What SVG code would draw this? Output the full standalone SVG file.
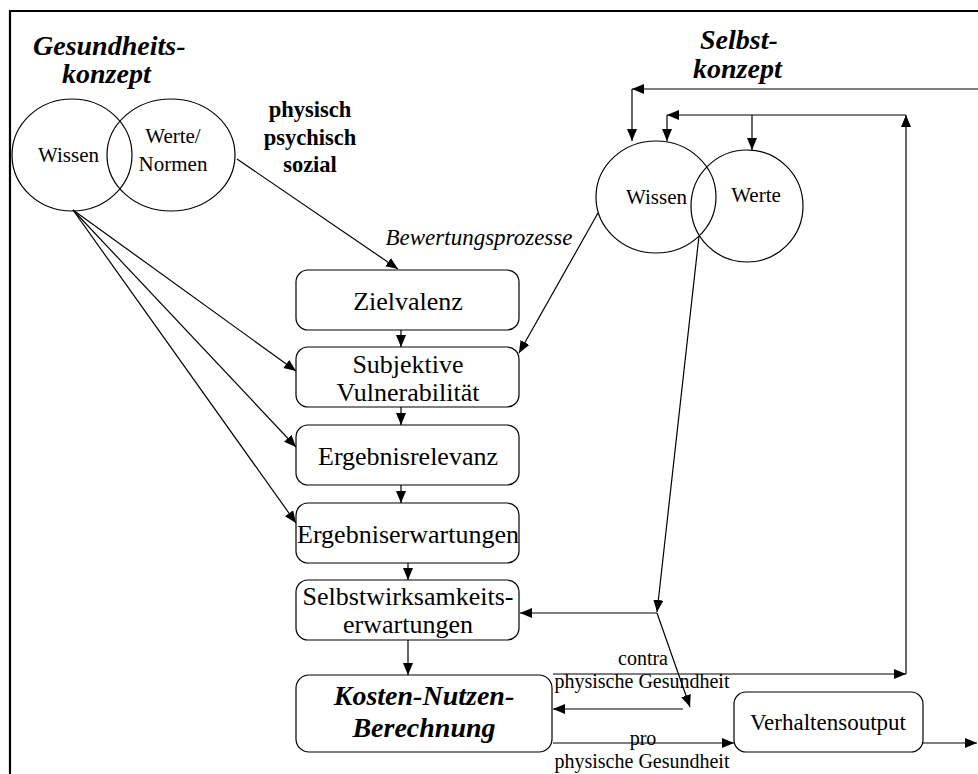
<svg xmlns="http://www.w3.org/2000/svg" width="978" height="774" viewBox="0 0 978 774">
  <defs>
    <marker id="arrow" markerUnits="userSpaceOnUse" markerWidth="13" markerHeight="11" refX="12" refY="5" orient="auto">
      <path d="M0,0 L12,5 L0,10 z" fill="#000"/>
    </marker>
    <style>
      .t { font-family: "Liberation Serif", "Times New Roman", serif; fill: #000; }
      .box { fill: #fff; stroke: #000; stroke-width: 1.2; }
      .ring { fill: none; stroke: #000; stroke-width: 1.2; }
      .a { fill: none; stroke: #000; stroke-width: 1.2; marker-end: url(#arrow); }
      .bt { font-size: 26px; text-anchor: middle; }
      .head { font-size: 28px; font-weight: bold; font-style: italic; }
      .dim { font-size: 22.5px; font-weight: bold; text-anchor: middle; }
      .small { font-size: 20px; text-anchor: middle; }
    </style>
  </defs>

  <rect width="978" height="774" fill="#fff"/>

  <!-- outer frame (top and left edges only) -->
  <path d="M10,774 V11 H978" fill="none" stroke="#000" stroke-width="2.2"/>

  <!-- Gesundheitskonzept -->
  <g id="gesundheitskonzept">
    <text class="t head" x="33" y="55">Gesundheits-</text>
    <text class="t head" x="62" y="83">konzept</text>
    <ellipse class="ring" cx="72" cy="155" rx="60" ry="56"/>
    <ellipse class="ring" cx="171" cy="155" rx="64" ry="56"/>
    <text class="t" x="38" y="162" font-size="21">Wissen</text>
    <text class="t" x="173" y="143" font-size="21" text-anchor="middle">Werte/</text>
    <text class="t" x="173" y="171" font-size="21" text-anchor="middle">Normen</text>
  </g>

  <g id="dimensionen">
    <text class="t dim" x="310" y="117">physisch</text>
    <text class="t dim" x="310" y="145">psychisch</text>
    <text class="t dim" x="310" y="172">sozial</text>
  </g>

  <!-- Selbstkonzept -->
  <g id="selbstkonzept">
    <text class="t head" x="700" y="49">Selbst-</text>
    <text class="t head" x="693" y="78">konzept</text>
    <ellipse class="ring" cx="656" cy="197" rx="60" ry="56"/>
    <ellipse class="ring" cx="747" cy="206" rx="56" ry="56"/>
    <text class="t" x="626" y="204" font-size="21">Wissen</text>
    <text class="t" x="756" y="202" font-size="21" text-anchor="middle">Werte</text>
  </g>

  <text id="bewertungsprozesse" class="t" x="479" y="245" font-size="23" font-style="italic" text-anchor="middle">Bewertungsprozesse</text>

  <!-- evaluation chain -->
  <g id="zielvalenz">
    <rect class="box" x="296" y="270" width="223" height="60" rx="12"/>
    <text class="t bt" x="408" y="310">Zielvalenz</text>
  </g>
  <g id="vulnerabilitaet">
    <rect class="box" x="296" y="347" width="223" height="60" rx="12"/>
    <text class="t bt" x="408" y="373">Subjektive</text>
    <text class="t bt" x="408" y="401">Vulnerabilität</text>
  </g>
  <g id="ergebnisrelevanz">
    <rect class="box" x="296" y="425" width="223" height="60" rx="12"/>
    <text class="t bt" x="408" y="465">Ergebnisrelevanz</text>
  </g>
  <g id="ergebniserwartungen">
    <rect class="box" x="296" y="503" width="223" height="60" rx="12"/>
    <text class="t bt" x="408" y="543">Ergebniserwartungen</text>
  </g>
  <g id="selbstwirksamkeit">
    <rect class="box" x="296" y="580" width="223" height="60" rx="12"/>
    <text class="t bt" x="408" y="605">Selbstwirksamkeits-</text>
    <text class="t bt" x="408" y="633">erwartungen</text>
  </g>
  <g id="kosten-nutzen">
    <rect class="box" x="296" y="675" width="256" height="77" rx="13"/>
    <text class="t head" x="424" y="705" text-anchor="middle">Kosten-Nutzen-</text>
    <text class="t head" x="424" y="737" text-anchor="middle">Berechnung</text>
  </g>
  <g id="verhaltensoutput">
    <rect class="box" x="734" y="692" width="189" height="60" rx="12"/>
    <text class="t" x="828" y="730" font-size="23" text-anchor="middle">Verhaltensoutput</text>
  </g>

  <!-- connectors -->
  <g id="connectors">
    <!-- from Werte/Normen to Zielvalenz -->
    <line class="a" x1="237" y1="159" x2="398" y2="269"/>
    <!-- fan from Wissen (Gesundheitskonzept) -->
    <line class="a" x1="73" y1="210" x2="296" y2="371"/>
    <line class="a" x1="73" y1="210" x2="296" y2="447"/>
    <line class="a" x1="73" y1="210" x2="296" y2="523"/>
    <!-- from Wissen (Selbstkonzept) to Subjektive Vulnerabilitaet -->
    <line class="a" x1="598" y1="213" x2="519" y2="353"/>
    <!-- chain arrows -->
    <line class="a" x1="401" y1="330" x2="401" y2="347"/>
    <line class="a" x1="401" y1="407" x2="401" y2="425"/>
    <line class="a" x1="401" y1="485" x2="401" y2="503"/>
    <line class="a" x1="408" y1="563" x2="408" y2="580"/>
    <line class="a" x1="408" y1="640" x2="408" y2="675"/>
    <!-- from the Selbstkonzept overlap downwards -->
    <line class="a" x1="699" y1="236" x2="657" y2="612"/>
    <line class="a" x1="657" y1="613" x2="520" y2="613"/>
    <line class="a" x1="657" y1="613" x2="690" y2="707"/>
    <line class="a" x1="683" y1="709" x2="553" y2="709"/>
    <!-- contra / pro -->
    <line class="a" x1="553" y1="674" x2="906" y2="674"/>
    <line class="a" x1="553" y1="743" x2="734" y2="743"/>
    <line class="a" x1="923" y1="743" x2="977" y2="743"/>
    <!-- feedback to Selbstkonzept -->
    <line class="a" x1="906" y1="674" x2="906" y2="115"/>
    <line class="a" x1="906" y1="115" x2="667" y2="115"/>
    <line class="a" x1="667" y1="115" x2="667" y2="141"/>
    <line class="a" x1="752" y1="115" x2="752" y2="150"/>
    <line class="a" x1="978" y1="89" x2="632" y2="89"/>
    <line class="a" x1="632" y1="89" x2="632" y2="141"/>
  </g>

  <g id="labels">
    <text class="t small" x="643" y="665">contra</text>
    <text class="t small" x="642" y="688">physische Gesundheit</text>
    <text class="t small" x="643" y="745">pro</text>
    <text class="t small" x="642" y="768">physische Gesundheit</text>
  </g>
</svg>
